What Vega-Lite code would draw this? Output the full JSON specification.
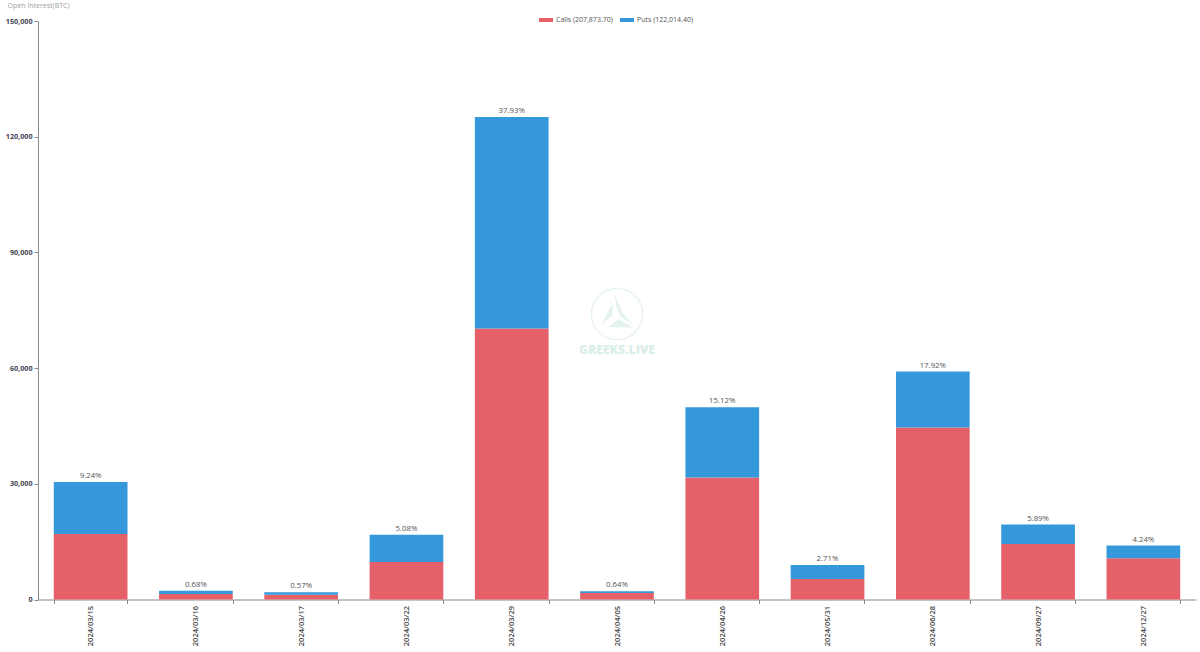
{"$schema":"https://vega.github.io/schema/vega-lite/v6.json","width":1158,"height":578.5,"autosize":{"type":"none"},"padding":{"left":38,"top":21,"right":4,"bottom":52.5},"background":"#ffffff","config":{"view":{"stroke":null},"font":"Open Sans","axisY":{"grid":false,"titleFontSize":7,"titleFontWeight":400,"titleColor":"#a0a0a0","titleAngle":0,"titleAlign":"left","titleBaseline":"middle","titleX":-31,"titleY":-16,"labelFontSize":7.2,"labelFontWeight":700,"labelColor":"#444455","labelPadding":2,"tickSize":4,"tickColor":"#8a8a8a","domainColor":"#8a8a8a"}},"datasets":{"bars":[{"date":"2024/03/15","series":"Calls (207,873.70)","oi":17000},{"date":"2024/03/15","series":"Puts (122,014.40)","oi":13482},{"date":"2024/03/16","series":"Calls (207,873.70)","oi":1400},{"date":"2024/03/16","series":"Puts (122,014.40)","oi":843},{"date":"2024/03/17","series":"Calls (207,873.70)","oi":1250},{"date":"2024/03/17","series":"Puts (122,014.40)","oi":630},{"date":"2024/03/22","series":"Calls (207,873.70)","oi":9700},{"date":"2024/03/22","series":"Puts (122,014.40)","oi":7058},{"date":"2024/03/29","series":"Calls (207,873.70)","oi":70270},{"date":"2024/03/29","series":"Puts (122,014.40)","oi":54857},{"date":"2024/04/05","series":"Calls (207,873.70)","oi":1700},{"date":"2024/04/05","series":"Puts (122,014.40)","oi":411},{"date":"2024/04/26","series":"Calls (207,873.70)","oi":31630},{"date":"2024/04/26","series":"Puts (122,014.40)","oi":18249},{"date":"2024/05/31","series":"Calls (207,873.70)","oi":5300},{"date":"2024/05/31","series":"Puts (122,014.40)","oi":3640},{"date":"2024/06/28","series":"Calls (207,873.70)","oi":44600},{"date":"2024/06/28","series":"Puts (122,014.40)","oi":14516},{"date":"2024/09/27","series":"Calls (207,873.70)","oi":14400},{"date":"2024/09/27","series":"Puts (122,014.40)","oi":5030},{"date":"2024/12/27","series":"Calls (207,873.70)","oi":10700},{"date":"2024/12/27","series":"Puts (122,014.40)","oi":3287}],"totals":[{"date":"2024/03/15","total":30482,"share":"9.24%"},{"date":"2024/03/16","total":2243,"share":"0.68%"},{"date":"2024/03/17","total":1880,"share":"0.57%"},{"date":"2024/03/22","total":16758,"share":"5.08%"},{"date":"2024/03/29","total":125127,"share":"37.93%"},{"date":"2024/04/05","total":2111,"share":"0.64%"},{"date":"2024/04/26","total":49879,"share":"15.12%"},{"date":"2024/05/31","total":8940,"share":"2.71%"},{"date":"2024/06/28","total":59116,"share":"17.92%"},{"date":"2024/09/27","total":19430,"share":"5.89%"},{"date":"2024/12/27","total":13987,"share":"4.24%"}],"mark":[{"date":"2024/04/05","y":74000,"label":"GREEKS.LIVE","y2":64700}]},"encoding":{"x":{"field":"date","type":"nominal","sort":null,"scale":{"domain":["2024/03/15","2024/03/16","2024/03/17","2024/03/22","2024/03/29","2024/04/05","2024/04/26","2024/05/31","2024/06/28","2024/09/27","2024/12/27"],"paddingInner":0.3,"paddingOuter":0.15},"axis":{"title":null,"labelAngle":-90,"labelFontSize":7.5,"labelFontWeight":600,"labelColor":"#444444","labelPadding":2,"tickBand":"extent","tickSize":4,"tickColor":"#8a8a8a","domainColor":"#8a8a8a","grid":false}}},"layer":[{"data":{"name":"mark"},"mark":{"type":"point","shape":"circle","filled":false,"stroke":"#d9eeea","strokeWidth":1.2,"size":2630},"encoding":{"y":{"field":"y","type":"quantitative","scale":{"domain":[0,150000],"nice":false},"axis":{"values":[0,30000,60000,90000,120000,150000],"format":",.0f","title":"Open Interest(BTC)"}}}},{"data":{"name":"mark"},"mark":{"type":"point","filled":true,"fill":"#d9eeea","stroke":null,"size":2630,"shape":"M-0.1,-0.78L0.22,-0.05L0.62,0.42L0.12,0.08L-0.02,-0.3ZM-0.16,-0.45L-0.18,0.05L-0.62,0.42ZM-0.35,0.5L0.05,0.2L0.6,0.52Z"},"encoding":{"y":{"field":"y","type":"quantitative","axis":{"values":[0,30000,60000,90000,120000,150000],"format":",.0f","title":"Open Interest(BTC)"}}}},{"data":{"name":"mark"},"mark":{"type":"text","font":"Open Sans","fontWeight":800,"fontSize":12.2,"color":"#d9eeea"},"encoding":{"y":{"field":"y2","type":"quantitative","axis":{"values":[0,30000,60000,90000,120000,150000],"format":",.0f","title":"Open Interest(BTC)"}},"text":{"field":"label"}}},{"data":{"name":"bars"},"mark":{"type":"bar"},"encoding":{"y":{"aggregate":"sum","field":"oi","type":"quantitative","stack":"zero","axis":{"values":[0,30000,60000,90000,120000,150000],"format":",.0f","title":"Open Interest(BTC)"}},"color":{"field":"series","type":"nominal","scale":{"domain":["Calls (207,873.70)","Puts (122,014.40)"],"range":["#e56068","#3498db"]},"legend":{"title":null,"orient":"none","legendX":501,"legendY":-8,"direction":"horizontal","columns":2,"symbolType":"M-1,-0.29H1V0.29H-1Z","symbolSize":196,"symbolStrokeWidth":0,"labelFontSize":7,"labelColor":"#555555","labelOffset":3,"columnPadding":7}},"order":{"field":"series"}}},{"data":{"name":"totals"},"mark":{"type":"text","baseline":"bottom","dy":-2,"fontSize":7.8,"color":"#555555"},"encoding":{"y":{"field":"total","type":"quantitative","axis":{"values":[0,30000,60000,90000,120000,150000],"format":",.0f","title":"Open Interest(BTC)"}},"text":{"field":"share"}}}]}
